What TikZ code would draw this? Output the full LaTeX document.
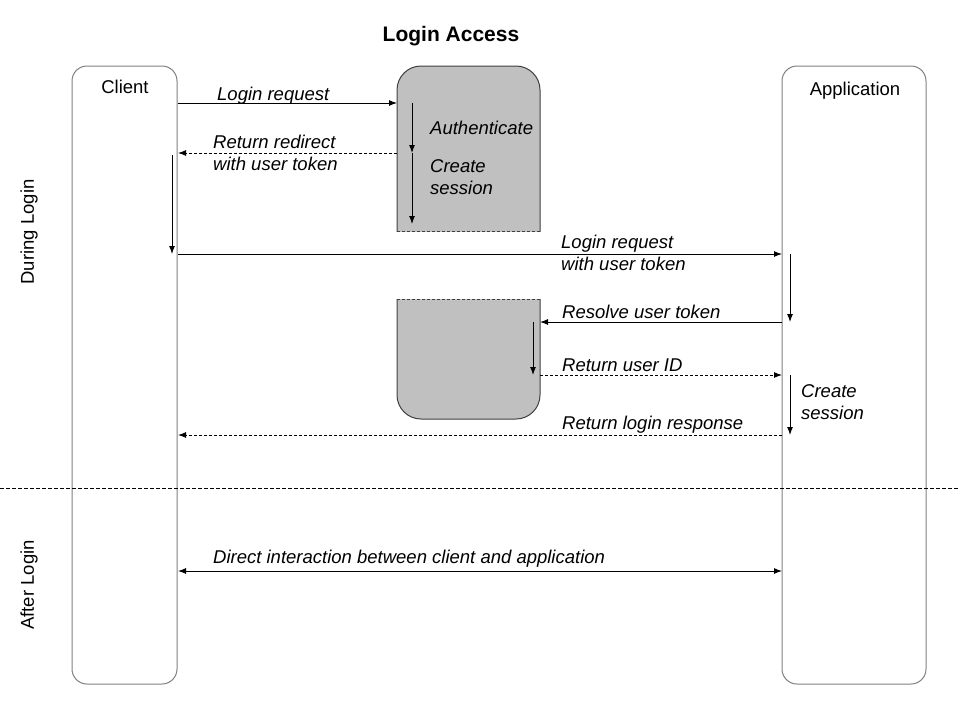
\documentclass[tikz,border=0pt]{standalone}
\usepackage{fontspec}
\setmainfont{Liberation Sans}
\usetikzlibrary{arrows.meta}
\usepackage{xcolor}

\begin{document}
\begin{tikzpicture}[x=1pt,y=-1pt,
  msg/.style={draw=black,line width=1pt,-{Latex[length=8pt,width=6pt]}},
  reply/.style={msg,dash pattern=on 3pt off 2pt},
  msgtext/.style={anchor=base west,inner sep=0pt,align=left,font=\fontsize{18.5}{22}\selectfont\itshape},
  headtext/.style={anchor=base,inner sep=0pt,font=\fontsize{18.5}{22}\selectfont}]
\definecolor{lifecolor}{RGB}{128,128,128} % Definition of the lifeline color
\definecolor{boxfill}{RGB}{192,192,192} % Definition of the server fill color
\definecolor{boxline}{RGB}{64,64,64} % Definition of the server line color
\useasboundingbox (0,0) rectangle (960,720); % Size of the picture
\node[anchor=base,font=\fontsize{21}{24}\selectfont\bfseries] (title) at (451,41) {Login Access}; % Title

\draw[draw=lifecolor,line width=1pt,rounded corners=15pt] (72,66) rectangle (177,684); % Client lifeline
\draw[draw=lifecolor,line width=1pt,rounded corners=15pt] (782,66) rectangle (926,684); % Application lifeline
\node[headtext] (client) at (125,93) {Client};
\node[headtext] (app) at (855,95) {Application};

\begin{scope} % Upper part of the login server
\clip (390,60) rectangle (550,231);
\filldraw[fill=boxfill,draw=boxline,line width=1pt,rounded corners=24pt] (397,66) rectangle (540,280);
\end{scope}
\draw[draw=boxline,line width=1pt,dash pattern=on 3pt off 2pt] (397,231) -- (540,231);
\begin{scope} % Lower part of the login server
\clip (390,299) rectangle (550,430);
\filldraw[fill=boxfill,draw=boxline,line width=1pt,rounded corners=24pt] (397,250) rectangle (540,419);
\end{scope}
\draw[draw=boxline,line width=1pt,dash pattern=on 3pt off 2pt] (397,299) -- (540,299);

\draw[dash pattern=on 4pt off 2pt,line width=1pt] (0,488) -- (960,488); % Separation of the two phases
\node[headtext,rotate=90,anchor=center] (during) at (29,232) {During Login};
\node[headtext,rotate=90,anchor=center] (after) at (29,585) {After Login};

\coordinate (c1) at (178,103); \coordinate (s1) at (397,103);
\coordinate (c2) at (178,153); \coordinate (s2) at (397,153);
\coordinate (c3) at (178,254); \coordinate (a3) at (782,254);
\coordinate (s4) at (540,322); \coordinate (a4) at (782,322);
\coordinate (s5) at (540,375); \coordinate (a5) at (782,375);
\coordinate (c6) at (178,435); \coordinate (a6) at (782,435);
\coordinate (c7) at (178,571); \coordinate (a7) at (782,571);

\draw[msg] (c1) -- (s1); % Login request
\node[msgtext] (t1) at (217,100) {Login request};
\draw[reply] (s2) -- (c2); % Return redirect
\node[msgtext] (t2) at (213,170) {Return redirect\\with user token};
\draw[msg] (412,103) -- (412,153); % Authenticate
\draw[msg] (412,153) -- (412,224); % Create session
\node[msgtext] (t2a) at (430,134) {Authenticate};
\node[msgtext] (t2b) at (430,194) {Create\\session};
\draw[msg] (172,155) -- (172,254); % Client follows redirect
\draw[msg] (c3) -- (a3); % Login request with token
\node[msgtext] (t3) at (561,270) {Login request\\with user token};
\draw[msg] (790,254) -- (790,322);
\draw[msg] (a4) -- (s4); % Resolve user token
\node[msgtext] (t4) at (562,318) {Resolve user token};
\draw[msg] (533,322) -- (533,375);
\draw[reply] (s5) -- (a5); % Return user ID
\node[msgtext] (t5) at (562,371) {Return user ID};
\draw[msg] (790,375) -- (790,435);
\node[msgtext] (t5a) at (801,419) {Create\\session};
\draw[reply] (a6) -- (c6); % Return login response
\node[msgtext] (t6) at (562,429) {Return login response};
\draw[msg,{Latex[length=8pt,width=6pt]}-{Latex[length=8pt,width=6pt]}] (c7) -- (a7); % Direct interaction
\node[msgtext] (t7) at (213,563) {Direct interaction between client and application};
\end{tikzpicture}
\end{document}
